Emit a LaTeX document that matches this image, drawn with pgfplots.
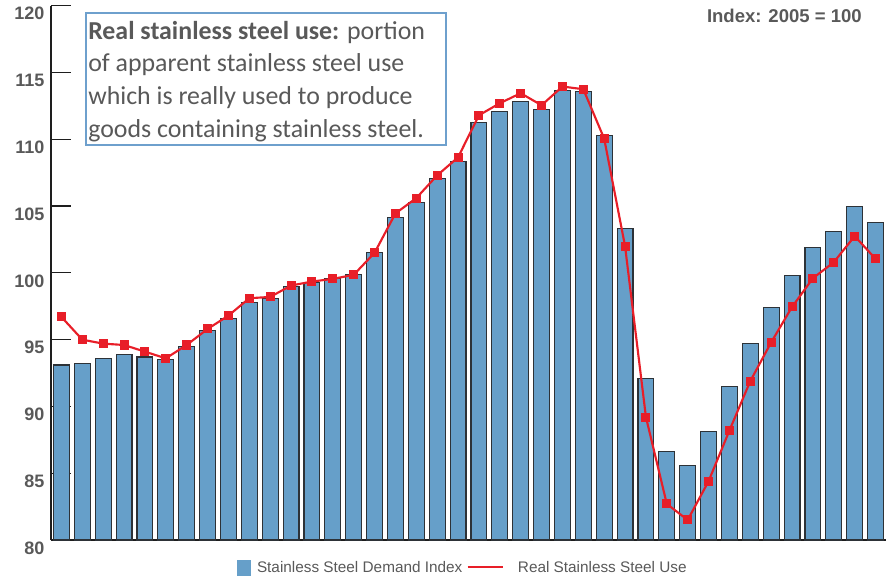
\documentclass[border=0pt]{standalone}
\usepackage{fontspec}
\setmainfont{Liberation Sans}
\newfontfamily\carlito{Carlito}
\usepackage{pgfplots}
\usepackage{pgfplotstable}
\pgfplotsset{compat=1.18}
\definecolor{barblue}{RGB}{102,159,201}
\definecolor{bardark}{RGB}{45,50,55}
\definecolor{linered}{RGB}{232,30,40}
\definecolor{boxblue}{RGB}{110,160,205}
\definecolor{textgray}{RGB}{89,89,89}
\definecolor{axisdark}{RGB}{30,30,30}

\pgfplotstableread{
x y
1 93.1
2 93.2
3 93.6
4 93.9
5 93.7
6 93.5
7 94.5
8 95.7
9 96.6
10 97.8
11 98.1
12 99.0
13 99.3
14 99.6
15 99.9
16 101.5
17 104.15
18 105.3
19 107.05
20 108.35
21 111.25
22 112.05
23 112.85
24 112.25
25 113.65
26 113.6
27 110.25
28 103.35
29 92.1
30 86.6
31 85.6
32 88.1
33 91.5
34 94.7
35 97.4
36 99.8
37 101.9
38 103.1
39 104.95
40 103.75
}\demand

\pgfplotstableread{
x y
1 96.7
2 95.0
3 94.7
4 94.6
5 94.1
6 93.6
7 94.6
8 95.8
9 96.8
10 98.1
11 98.2
12 99.05
13 99.35
14 99.55
15 99.85
16 101.5
17 104.45
18 105.6
19 107.3
20 108.65
21 111.8
22 112.7
23 113.45
24 112.55
25 113.95
26 113.75
27 110.05
28 102.0
29 89.2
30 82.7
31 81.5
32 84.4
33 88.2
34 91.9
35 94.8
36 97.45
37 99.6
38 100.8
39 102.75
40 101.05
}\realuse

\begin{document}
\begin{tikzpicture}
\useasboundingbox (-38.25pt,-29.25pt) rectangle (626.25pt,405pt);
\begin{axis}[
  at={(0pt,0pt)}, anchor=south west,
  scale only axis, width=626.25pt, height=400.7pt,
  xmin=0.5, xmax=40.5, ymin=80, ymax=120,
  axis lines=left,
  axis line style={-, line width=1.2pt, color=axisdark},
  xtick=\empty, ytick={80,85,...,120},
  major tick length=15pt, tick align=inside,
  tick style={line width=0.9pt, color=axisdark},
  /pgf/number format/assume math mode=true,
  yticklabel style={font=\bfseries\fontsize{13.5}{16}\selectfont, text=textgray, yshift=-6pt, xshift=-1.5pt},
  clip=true,
]
\addplot[ybar, bar width=0.76, fill=barblue, draw=bardark, line width=0.8pt] table[x=x,y=y] {\demand};
\addplot[linered, line width=1.6pt, mark=square*, mark size=2.6pt, mark options={solid, fill=linered}] table[x=x,y=y] {\realuse};
\end{axis}
% annotation box
\draw[boxblue, line width=1.3pt, fill=white] (26.25pt,296.25pt) rectangle (296.25pt,395.25pt);
\begin{scope}[every node/.style={anchor=base west, inner sep=0pt, text=textgray, font=\carlito\fontsize{19.4}{22}\selectfont}]
\node at (27.75pt,375.5pt) {\textbf{Real stainless steel use:} portion};
\node at (27.75pt,351pt) {of apparent stainless steel use};
\node at (27.75pt,326.5pt) {which is really used to produce};
\node at (27.75pt,302.1pt) {goods containing stainless steel.};
\end{scope}
% index note
\node[anchor=east, inner sep=0pt, text=textgray, font=\bfseries\fontsize{13.9}{16}\selectfont] at (608.25pt,393pt) {Index: 2005 = 100};
% legend
\fill[barblue] (139.5pt,-15pt) rectangle (150pt,-26.8pt);
\node[anchor=west, inner sep=0pt, text=textgray, font=\fontsize{11.5}{14}\selectfont] at (154.3pt,-20.25pt) {Stainless Steel Demand Index};
\draw[linered, line width=2pt] (312.5pt,-20.25pt) -- (338.8pt,-20.25pt);
\node[anchor=west, inner sep=0pt, text=textgray, font=\fontsize{11.5}{14}\selectfont] at (350pt,-20.25pt) {Real Stainless Steel Use};
\end{tikzpicture}
\end{document}
